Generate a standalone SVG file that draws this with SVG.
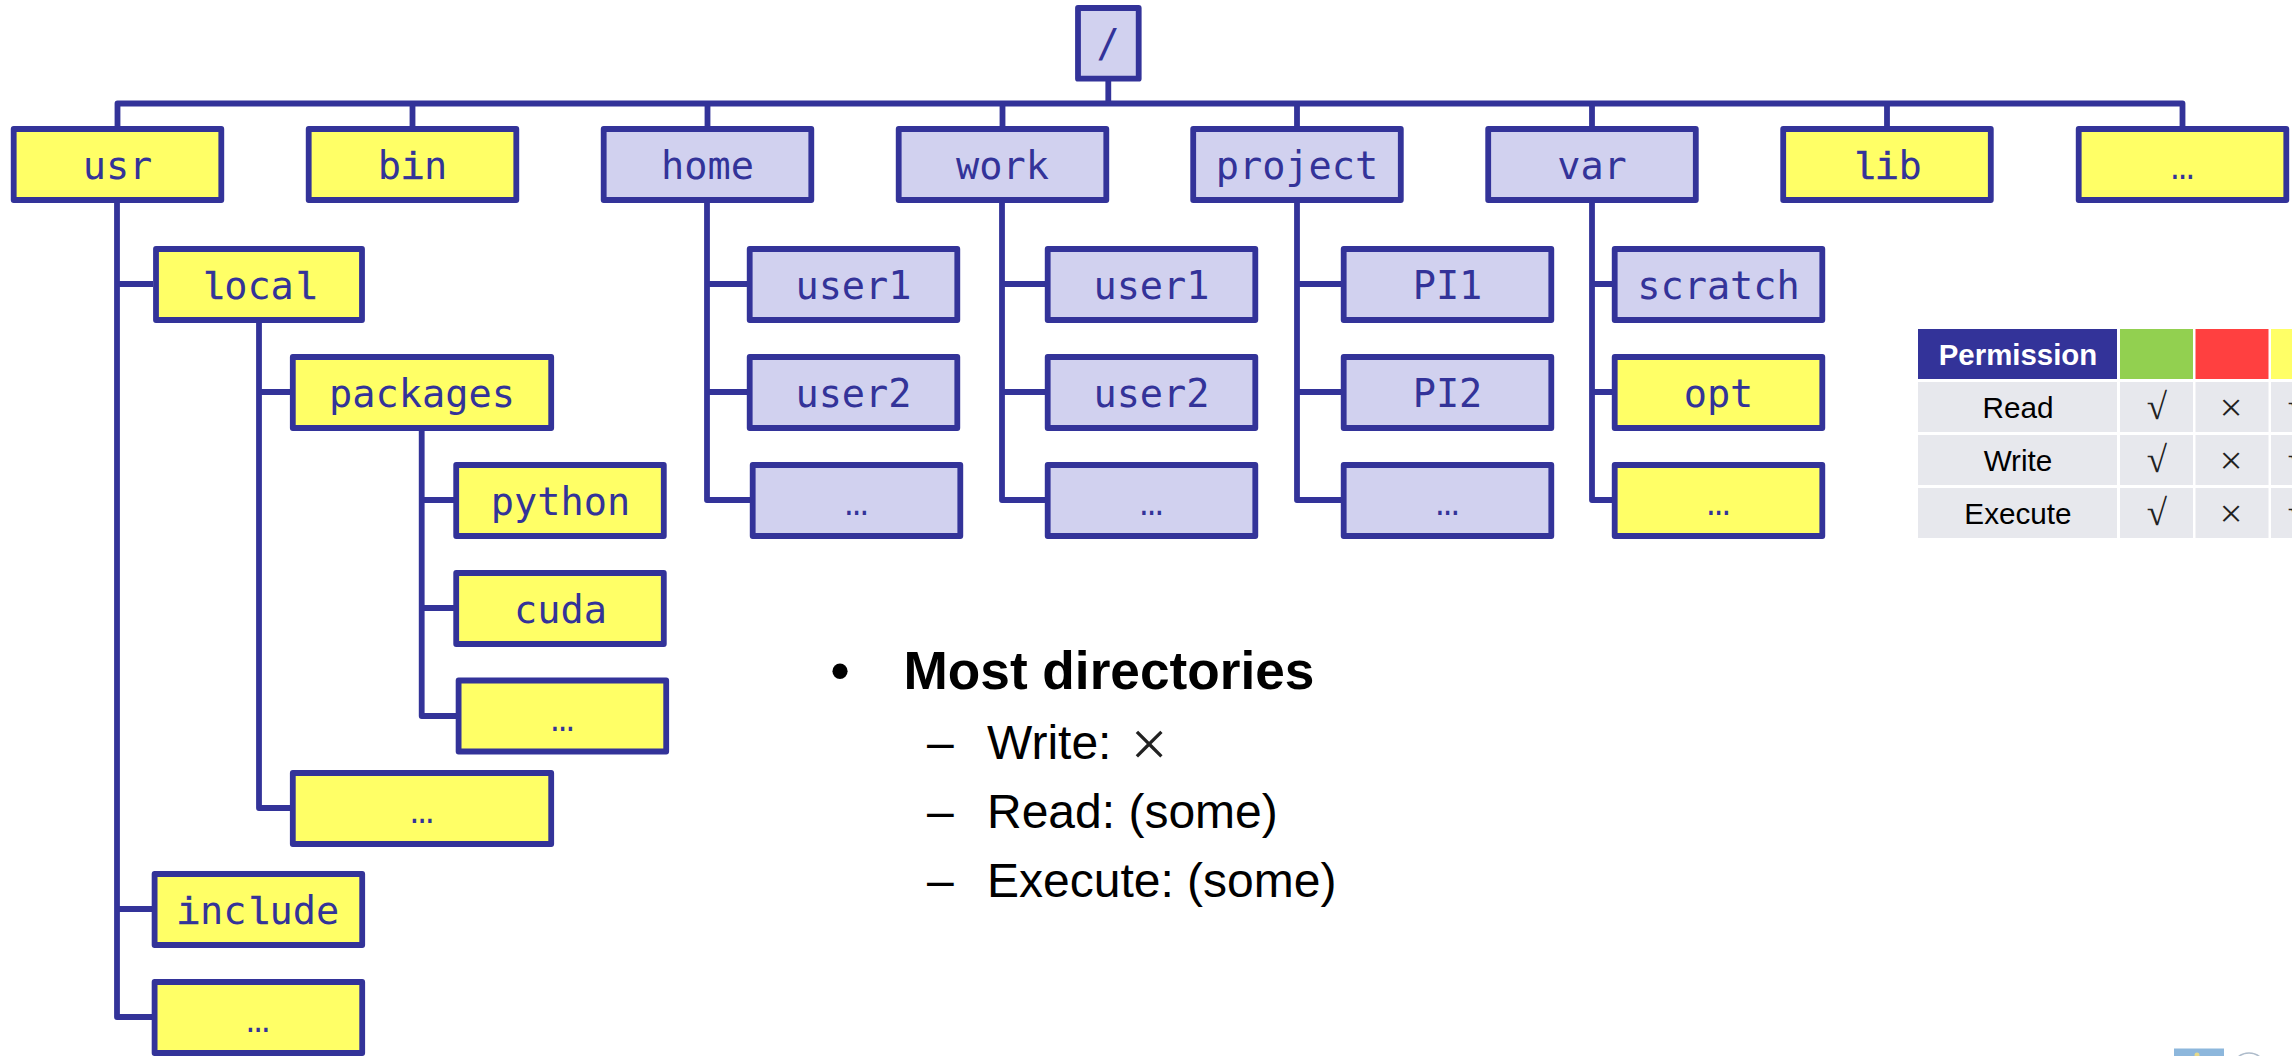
<svg xmlns="http://www.w3.org/2000/svg" width="2292" height="1056" viewBox="0 0 2292 1056">
<style>
.y rect{fill:#ffff66;stroke:#333399;stroke-width:5.8;stroke-linejoin:round}
.b rect{fill:#d1d1ef;stroke:#333399;stroke-width:5.8;stroke-linejoin:round}
.y text,.b text{font-family:"DejaVu Sans Mono",monospace;font-size:38.6px;fill:#333399;text-anchor:middle}
.y text.d,.b text.d{font-family:"Liberation Mono",monospace}
.k{font-family:"Liberation Mono",monospace;stroke:#333399;stroke-width:.5}
#connectors path{fill:none;stroke:#333399;stroke-width:5.8;stroke-linejoin:round}
.s{font-family:"Liberation Sans",Arial,sans-serif;fill:#000}
.t{font-family:"Liberation Sans",Arial,sans-serif;font-size:29.7px;fill:#000;text-anchor:middle}
.m{font-family:"Liberation Serif",serif;fill:#222;text-anchor:middle}
.c{fill:#e7e8ed}
</style>
<rect width="2292" height="1056" fill="#fff"/>
<g id="connectors">
<path d="M1108.300 80V103.500M117.500 126V103.500H2182.500V126M412.500 103.500V126M707.500 103.500V126M1002.500 103.500V126M1297 103.500V126M1592 103.500V126M1887 103.500V126"/>
<path d="M117 202V1017H153M117 284H153M117 909H153"/>
<path d="M259 322V808H291M259 392H291"/>
<path d="M421.700 428V716H458M421.700 500H455M421.700 608H455"/>
<path d="M707 202V500H751M707 284H748M707 392H748"/>
<path d="M1002 202V500H1046M1002 284H1046M1002 392H1046"/>
<path d="M1297 202V500H1342M1297 284H1342M1297 392H1342"/>
<path d="M1592 202V500H1612M1592 284H1612M1592 392H1612"/>
</g>
<g id="root" class="b"><rect x="1078" y="8" width="60.700" height="70.700"/><text x="1108" y="57">/</text></g>
<g id="usr" class="y"><rect x="13.700" y="129" width="207.600" height="71"/><text x="117.500" y="179">usr</text></g>
<g id="bin" class="y"><rect x="308.700" y="129" width="207.600" height="71"/><text x="412.500" y="179">b<tspan class="k">i</tspan>n</text></g>
<g id="home" class="b"><rect x="603.700" y="129" width="207.600" height="71"/><text x="707.500" y="179">home</text></g>
<g id="work" class="b"><rect x="898.700" y="129" width="207.600" height="71"/><text x="1002.500" y="179">work</text></g>
<g id="project" class="b"><rect x="1193.200" y="129" width="207.600" height="71"/><text x="1297" y="179">project</text></g>
<g id="var" class="b"><rect x="1488.200" y="129" width="207.600" height="71"/><text x="1592" y="179">var</text></g>
<g id="lib" class="y"><rect x="1783.200" y="129" width="207.600" height="71"/><text x="1887" y="179"><tspan class="k">li</tspan>b</text></g>
<g id="more-top" class="y"><rect x="2078.700" y="129" width="207.600" height="71"/><text class="d" x="2182.500" y="179">…</text></g>
<g id="local" class="y"><rect x="156" y="249" width="206" height="71"/><text x="259" y="299"><tspan class="k">l</tspan>oca<tspan class="k">l</tspan></text></g>
<g id="packages" class="y"><rect x="292.800" y="357" width="258.400" height="71"/><text x="422" y="407">packages</text></g>
<g id="python" class="y"><rect x="456.200" y="465" width="207.600" height="71"/><text x="560.500" y="515">python</text></g>
<g id="cuda" class="y"><rect x="456.200" y="573" width="207.600" height="71"/><text x="560.500" y="623">cuda</text></g>
<g id="more-packages" class="y"><rect x="458.600" y="680.500" width="207.600" height="71"/><text class="d" x="562.500" y="731">…</text></g>
<g id="more-local" class="y"><rect x="292.800" y="773" width="258.400" height="71"/><text class="d" x="422" y="823">…</text></g>
<g id="include" class="y"><rect x="154.600" y="874" width="207.600" height="71"/><text x="258" y="924"><tspan class="k">i</tspan>nc<tspan class="k">l</tspan>ude</text></g>
<g id="more-usr" class="y"><rect x="154.600" y="982" width="207.600" height="71"/><text class="d" x="258" y="1032">…</text></g>
<g id="home-user1" class="b"><rect x="749.700" y="249" width="207.600" height="71"/><text x="853.500" y="299">user1</text></g>
<g id="home-user2" class="b"><rect x="749.700" y="357" width="207.600" height="71"/><text x="853.500" y="407">user2</text></g>
<g id="home-more" class="b"><rect x="752.700" y="465" width="207.600" height="71"/><text class="d" x="856.500" y="515">…</text></g>
<g id="work-user1" class="b"><rect x="1047.700" y="249" width="207.600" height="71"/><text x="1151.500" y="299">user1</text></g>
<g id="work-user2" class="b"><rect x="1047.700" y="357" width="207.600" height="71"/><text x="1151.500" y="407">user2</text></g>
<g id="work-more" class="b"><rect x="1047.700" y="465" width="207.600" height="71"/><text class="d" x="1151.500" y="515">…</text></g>
<g id="pi1" class="b"><rect x="1343.700" y="249" width="207.600" height="71"/><text x="1447.500" y="299">PI1</text></g>
<g id="pi2" class="b"><rect x="1343.700" y="357" width="207.600" height="71"/><text x="1447.500" y="407">PI2</text></g>
<g id="project-more" class="b"><rect x="1343.700" y="465" width="207.600" height="71"/><text class="d" x="1447.500" y="515">…</text></g>
<g id="scratch" class="b"><rect x="1614.700" y="249" width="207.600" height="71"/><text x="1718.500" y="299">scratch</text></g>
<g id="opt" class="y"><rect x="1614.700" y="357" width="207.600" height="71"/><text x="1718.500" y="407">opt</text></g>
<g id="var-more" class="y"><rect x="1614.700" y="465" width="207.600" height="71"/><text class="d" x="1718.500" y="515">…</text></g>
<g id="table">
<rect x="1918" y="329" width="199" height="50" fill="#333399"/>
<rect x="2120" y="329" width="73" height="50" fill="#92d050"/>
<rect x="2195.500" y="329" width="73" height="50" fill="#ff4040"/>
<rect x="2271" y="329" width="21" height="50" fill="#ffff66"/>
<rect class="c" x="1918" y="382" width="199" height="50"/><rect class="c" x="2120" y="382" width="73" height="50"/><rect class="c" x="2195.500" y="382" width="73" height="50"/><rect class="c" x="2271" y="382" width="21" height="50"/>
<rect class="c" x="1918" y="435" width="199" height="50"/><rect class="c" x="2120" y="435" width="73" height="50"/><rect class="c" x="2195.500" y="435" width="73" height="50"/><rect class="c" x="2271" y="435" width="21" height="50"/>
<rect class="c" x="1918" y="488" width="199" height="50"/><rect class="c" x="2120" y="488" width="73" height="50"/><rect class="c" x="2195.500" y="488" width="73" height="50"/><rect class="c" x="2271" y="488" width="21" height="50"/>
<text class="t" x="2018" y="365" style="fill:#fff;font-weight:bold;font-size:29.4px">Permission</text>
<text class="t" x="2018" y="418">Read</text>
<text class="t" x="2018" y="471">Write</text>
<text class="t" x="2018" y="524">Execute</text>
<text class="m" x="2157" y="419" font-size="37">√</text><text class="m" x="2157" y="472" font-size="37">√</text><text class="m" x="2157" y="525" font-size="37">√</text>
<text class="m" x="2231" y="421" font-size="41">×</text><text class="m" x="2231" y="474" font-size="41">×</text><text class="m" x="2231" y="527" font-size="41">×</text>
<text class="m" x="2298" y="419" font-size="37">√</text><text class="m" x="2298" y="472" font-size="37">√</text><text class="m" x="2298" y="525" font-size="37">√</text>
</g>
<g id="notes">
<text class="s" x="840" y="689" font-size="53" text-anchor="middle" font-weight="bold">•</text>
<text class="s" x="903.500" y="689" font-size="53.200" font-weight="bold">Most directories</text>
<text class="s" x="927" y="759" font-size="48">–</text>
<text class="s" x="987" y="759" font-size="48">Write:</text>
<text class="m" x="1149" y="765.500" font-size="66">×</text>
<text class="s" x="927" y="828" font-size="48">–</text>
<text class="s" x="987" y="828" font-size="48">Read: (some)</text>
<text class="s" x="927" y="897" font-size="48">–</text>
<text class="s" x="987" y="897" font-size="48">Execute: (some)</text>
</g>
<g id="logo-fragment">
<rect x="2174" y="1048.500" width="50" height="8" fill="#8db7dc"/>
<circle cx="2197" cy="1055" r="2.500" fill="#e5d98a"/>
<circle cx="2249" cy="1070" r="17" fill="none" stroke="#aebccb" stroke-width="1.500"/>
</g>
</svg>
